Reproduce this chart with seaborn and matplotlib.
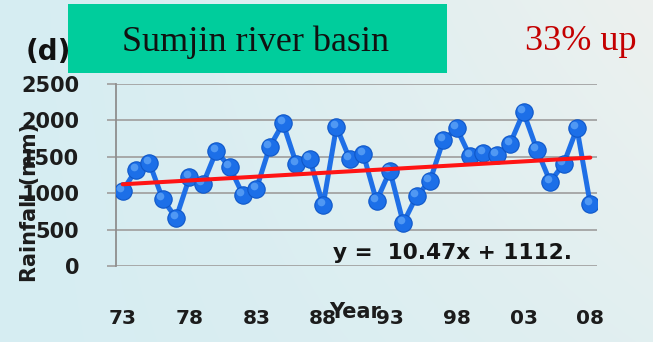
import numpy as np
import pandas as pd
import matplotlib
matplotlib.use("Agg")
import matplotlib.pyplot as plt
import matplotlib.transforms as mtransforms
from matplotlib.patches import Rectangle
import seaborn as sns

# Annual rainfall, Sumjin river basin
years = [1973, 1974, 1975, 1976, 1977, 1978, 1979, 1980, 1981, 1982,
         1983, 1984, 1985, 1986, 1987, 1988, 1989, 1990, 1991, 1992,
         1993, 1994, 1995, 1996, 1997, 1998, 1999, 2000, 2001, 2002,
         2003, 2004, 2005, 2006, 2007, 2008]
rainfall = [1035, 1319, 1417, 915, 660, 1217, 1124, 1574, 1365, 975,
            1054, 1635, 1960, 1403, 1472, 832, 1914, 1463, 1542, 892,
            1309, 590, 961, 1170, 1727, 1890, 1505, 1556, 1518, 1681,
            2113, 1598, 1156, 1403, 1890, 846]
tick_years = [1973, 1978, 1983, 1988, 1993, 1998, 2003, 2008]
tick_labels = ["73", "78", "83", "88", "93", "98", "03", "08"]
y_ticks = [0, 500, 1000, 1500, 2000, 2500]
trend_slope = 10.47
trend_intercept = 1112

sns.set_theme(style="white")
plt.rcParams["font.family"] = ["DejaVu Sans"]

W, H = 653, 342
fig = plt.figure(figsize=(W / 100, H / 100), dpi=100)

# soft cyan-to-grey backdrop
bg = fig.add_axes([0, 0, 1, 1], zorder=-10)
xx = np.linspace(0, 1, W)[None, :]
yy = np.linspace(0, 1, H)[:, None]
t = np.clip(xx ** 1.3 * (1.0 - 0.5 * yy), 0, 1)[..., None]
c_left = np.array([0.84, 0.93, 0.95])
c_right = np.array([0.93, 0.945, 0.935])
img = c_left * (1 - t) + c_right * t
bg.imshow(img, aspect="auto", extent=[0, 1, 0, 1], origin="upper")
bg.set_axis_off()

ax = fig.add_axes([116 / W, 1 - 266 / H, (597 - 116) / W, (266 - 84) / H])
ax.patch.set_alpha(0)

df = pd.DataFrame({"year": years, "rainfall": rainfall})
df["trend"] = trend_slope * (np.arange(len(years)) + 1) + trend_intercept

line_blue = "#1f6fe6"
sns.lineplot(data=df, x="year", y="rainfall", ax=ax, color=line_blue,
             lw=3.6, marker="o", markersize=12.5,
             markerfacecolor="#1c6fe8", markeredgecolor="#0f57c8",
             markeredgewidth=0.8, zorder=3)
# glossy highlight on each marker
shift = mtransforms.ScaledTranslation(-1.8 / 72, 2.2 / 72, fig.dpi_scale_trans)
ax.plot(df["year"], df["rainfall"], ls="none", marker="o", markersize=5.5,
        markeredgewidth=0, color="#5ea3f6", alpha=0.8,
        transform=ax.transData + shift, zorder=3.5)

sns.lineplot(data=df, x="year", y="trend", ax=ax, color="#ff1414",
             lw=2.9, zorder=4)

ax.set_xlim(1972.5, 2008.5)
ax.set_ylim(0, 2500)
ax.set_xticks(tick_years)
ax.set_xticklabels(tick_labels)
ax.set_yticks(y_ticks)
ax.set_yticklabels([str(v) for v in y_ticks])
ax.set_xlabel("")
ax.set_ylabel("")

ax.yaxis.grid(True, color="#a3a3a3", lw=1.3)
ax.xaxis.grid(False)
for side in ["top", "right", "bottom"]:
    ax.spines[side].set_visible(False)
ax.spines["left"].set_color("#8e8e8e")
ax.spines["left"].set_linewidth(1.3)

ax.tick_params(axis="y", left=True, length=6.5, width=1.3, color="#a3a3a3",
               pad=20, labelsize=15, labelcolor="#1c1c1c")
ax.tick_params(axis="x", bottom=False, length=0, pad=31, labelsize=14.5,
               labelcolor="#1c1c1c")
for lab in ax.get_yticklabels() + ax.get_xticklabels():
    lab.set_fontweight("bold")

# fitted trend equation
fig.text(333 / W, 1 - 253 / H, "y =  10.47x + 1112.", fontsize=15.6,
         fontweight="bold", color="#151515", va="center", ha="left")

fig.text(355 / W, 1 - 312 / H, "Year", ha="center", va="center",
         fontsize=15, fontweight="bold", color="#1c1c1c")
fig.text(30 / W, 1 - 202 / H, "Rainfall (mm)", ha="center", va="center",
         rotation=90, fontsize=15, fontweight="bold", color="#1c1c1c")

fig.text(48 / W, 1 - 52 / H, "(d)", ha="center", va="center", fontsize=20,
         fontweight="bold", color="#111111", zorder=1)
fig.patches.append(Rectangle((68 / W, 1 - 73 / H), (447 - 68) / W, 69 / H,
                             transform=fig.transFigure, facecolor="#00cd9c",
                             edgecolor="none", zorder=2))
fig.text(256 / W, 1 - 42 / H, "Sumjin river basin", ha="center", va="center",
         fontsize=26, family="Liberation Serif", color="#111111", zorder=3)
fig.text(581 / W, 1 - 42 / H, "33% up", ha="center", va="center",
         fontsize=26, family="Liberation Serif", color="#c40000", zorder=3)

fig.savefig("out.png", dpi=100)
